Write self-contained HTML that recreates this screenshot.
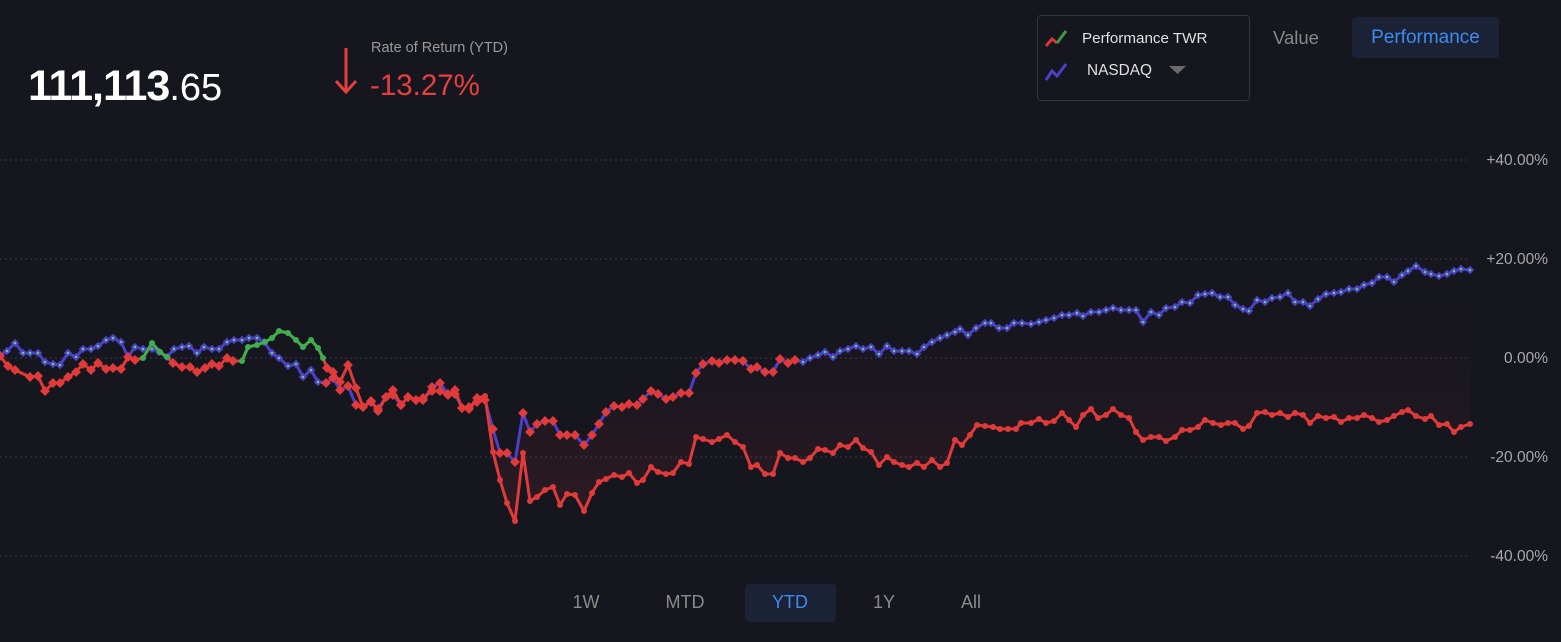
<!DOCTYPE html>
<html><head><meta charset="utf-8"><style>
html,body{margin:0;padding:0;background:#16161f;width:1561px;height:642px;overflow:hidden;font-family:"Liberation Sans",sans-serif;}
.t{position:absolute;white-space:nowrap;}
</style></head><body>
<div class="t" style="left:28px;top:62px;font-size:43px;font-weight:bold;color:#fff;letter-spacing:-1px">111,113<span style="font-size:38px;font-weight:normal;letter-spacing:0">.65</span></div>
<svg class="t" style="left:334px;top:46px" width="26" height="50"><line x1="12" y1="2" x2="12" y2="46" stroke="#e5403f" stroke-width="3"/><polyline points="2,35 12,46 22,35" fill="none" stroke="#e5403f" stroke-width="3"/></svg>
<div class="t" style="left:371px;top:40px;font-size:14.5px;color:#9a9a9a">Rate of Return (YTD)</div>
<div class="t" style="left:370px;top:69px;font-size:29.5px;color:#e5403f">-13.27%</div>
<div class="t" style="left:1037px;top:15px;width:213px;height:86px;border:1px solid #34343e;border-radius:4px;box-sizing:border-box"></div>
<svg class="t" style="left:1044px;top:28px" width="30" height="56"><polyline points="2,18 8,11 13,15" fill="none" stroke="#d9362f" stroke-width="3"/><polyline points="13,15 22,3" fill="none" stroke="#3a9a45" stroke-width="3"/><polyline points="2,52 8,43 13,48 22,36" fill="none" stroke="#4d3fc7" stroke-width="3"/></svg>
<div class="t" style="left:1082px;top:30px;font-size:15.2px;color:#e0e0e0">Performance TWR</div>
<div class="t" style="left:1087px;top:62px;font-size:15.4px;color:#e0e0e0">NASDAQ</div>
<svg class="t" style="left:1169px;top:66px" width="18" height="9"><polygon points="0,0 17,0 8.5,8" fill="#6a6a6a"/></svg>
<div class="t" style="left:1273px;top:27px;font-size:18.5px;color:#888">Value</div>
<div class="t" style="left:1352px;top:17px;width:147px;height:41px;background:#1b2235;border-radius:4px;color:#3d8bef;font-size:19px;text-align:center;line-height:41px">Performance</div>
<div class="t" style="left:745px;top:584px;width:91px;height:38px;background:#1b2235;border-radius:4px"></div>
<div class="t" style="left:556px;top:592px;width:60px;text-align:center;font-size:18px;color:#8a8a8a">1W</div>
<div class="t" style="left:655px;top:592px;width:60px;text-align:center;font-size:18px;color:#8a8a8a">MTD</div>
<div class="t" style="left:760px;top:592px;width:60px;text-align:center;font-size:18px;color:#3d8bef">YTD</div>
<div class="t" style="left:854px;top:592px;width:60px;text-align:center;font-size:18px;color:#8a8a8a">1Y</div>
<div class="t" style="left:941px;top:592px;width:60px;text-align:center;font-size:18px;color:#8a8a8a">All</div>
<svg id="c" class="t" style="left:0;top:0" width="1561" height="642"></svg>
<script>
var R=[[0,356],[8,366],[15,370],[30,377],[38,376],[45,391],[53,383],[60,383],[68,377],[76,372],[83,364],[91,370],[98,363],[106,369],[113,368],[121,369],[128,357],[135,360],[143,358],[152,343],[160,352],[167,357],[173,363],[182,367],[190,367],[197,372],[205,368],[212,364],[219,366],[227,358],[233,361],[242,361],[248,347],[257,345],[265,342],[272,338],[279,331],[288,333],[296,340],[303,347],[311,340],[318,348],[323,358],[327,368],[333,372],[340,382],[348,365],[356,388],[363,407],[371,401],[378,411],[386,397],[393,390],[401,405],[408,397],[416,400],[423,398],[432,391],[440,391],[448,395],[455,390],[462,408],[469,409],[477,398],[485,396],[493,452],[500,480],[507,503],[515,521],[523,453],[530,501],[537,497],[545,490],[553,487],[560,505],[567,494],[575,495],[584,511],[592,493],[599,482],[606,479],[614,475],[622,477],[629,473],[637,483],[643,480],[651,467],[658,472],[666,474],[673,473],[681,462],[689,464],[696,437],[703,439],[712,442],[719,439],[727,435],[735,442],[743,447],[751,467],[757,465],[765,474],[773,474],[780,453],[788,458],[795,458],[803,462],[810,458],[818,449],[825,450],[833,453],[840,445],[848,447],[856,440],[863,448],[871,452],[879,465],[887,457],[894,462],[902,465],[909,467],[917,463],[924,467],[932,460],[940,467],[947,463],[955,440],[962,445],[970,435],[977,425],[985,426],[993,427],[1000,429],[1008,429],[1016,429],[1021,423],[1031,423],[1039,419],[1046,423],[1054,421],[1062,413],[1069,420],[1076,427],[1083,415],[1091,409],[1098,418],[1106,415],[1113,409],[1121,415],[1129,418],[1136,432],[1143,440],[1151,437],[1159,437],[1166,441],[1175,437],[1182,430],[1190,430],[1198,427],[1205,420],[1213,423],[1221,425],[1228,423],[1235,423],[1243,429],[1249,426],[1257,413],[1265,412],[1272,415],[1280,413],[1288,417],[1295,413],[1303,415],[1310,423],[1318,416],[1326,418],[1334,417],[1341,422],[1349,418],[1357,418],[1364,415],[1372,418],[1379,422],[1387,420],[1394,416],[1402,412],[1408,410],[1416,416],[1425,419],[1431,416],[1439,425],[1447,424],[1454,432],[1461,427],[1470,424]];
var B=[[0,355],[7,351],[15,343],[23,353],[30,353],[38,353],[45,362],[53,364],[60,365],[68,353],[76,357],[83,349],[91,349],[98,346],[106,340],[113,338],[121,342],[128,357],[135,347],[143,349],[152,349],[159,352],[167,357],[174,349],[182,347],[189,346],[197,353],[204,347],[212,349],[219,349],[227,342],[234,340],[242,340],[249,338],[257,338],[264,342],[272,353],[279,358],[288,366],[296,364],[303,377],[311,370],[318,382],[326,383],[333,378],[340,390],[348,386],[356,405],[363,407],[371,402],[378,409],[386,397],[393,395],[401,405],[408,397],[416,400],[423,400],[432,387],[440,383],[448,394],[455,394],[462,408],[469,407],[477,402],[485,400],[493,429],[500,453],[507,453],[515,462],[523,413],[530,432],[537,424],[545,421],[553,421],[560,435],[567,435],[575,435],[584,445],[592,435],[599,424],[606,412],[614,406],[622,407],[629,404],[637,405],[643,399],[651,391],[658,394],[666,399],[673,397],[681,393],[689,393],[696,373],[703,364],[712,361],[719,363],[727,360],[735,360],[743,361],[751,369],[757,367],[765,372],[773,372],[780,359],[788,363],[795,360],[803,362],[810,358],[818,355],[825,352],[833,357],[840,351],[848,349],[856,346],[863,349],[871,347],[879,354],[887,346],[894,351],[902,351],[909,351],[917,354],[924,347],[932,342],[940,338],[947,335],[955,332],[960,329],[968,335],[976,328],[985,323],[991,323],[999,328],[1007,328],[1014,323],[1022,323],[1031,324],[1039,322],[1046,320],[1054,318],[1062,315],[1069,315],[1077,313],[1083,316],[1091,312],[1099,312],[1106,310],[1113,308],[1121,310],[1129,310],[1136,310],[1143,322],[1151,312],[1159,315],[1166,308],[1175,307],[1182,302],[1190,303],[1198,295],[1205,294],[1212,293],[1220,297],[1228,297],[1235,305],[1243,309],[1249,311],[1257,300],[1265,302],[1272,298],[1280,297],[1288,293],[1295,302],[1303,302],[1310,306],[1318,299],[1326,294],[1334,293],[1341,292],[1349,289],[1357,289],[1364,285],[1372,283],[1379,277],[1387,277],[1394,282],[1402,275],[1408,271],[1416,266],[1425,272],[1431,274],[1439,276],[1447,274],[1454,271],[1461,269],[1470,270]];
var s='<defs><linearGradient id="g" gradientUnits="userSpaceOnUse" x1="0" y1="300" x2="0" y2="520"><stop offset="0" stop-color="#e03a3a" stop-opacity="0"/><stop offset="0.35" stop-color="#e03a3a" stop-opacity="0.02"/><stop offset="1" stop-color="#e03a3a" stop-opacity="0.12"/></linearGradient></defs>';
[160,259,358,457,556].forEach(function(y,i){s+='<line x1="0" y1="'+y+'" x2="1470" y2="'+y+'" stroke="#3a3a44" stroke-dasharray="2,3"/>';
s+='<text x="1548" y="'+(y+5)+'" text-anchor="end" font-size="15.5" fill="#a8a8a8" font-family="Liberation Sans">'+['+40.00%','+20.00%','0.00%','-20.00%','-40.00%'][i]+'</text>';});
function pts(a){return a.map(function(p){return p.join(',')}).join(' ');}
var fa=B.filter(function(p){return p[0]>=470&&p[0]<=1470}),fr=R.filter(function(p){return p[0]>=470&&p[0]<=1470}).reverse();
s+='<polygon points="'+pts(fa.concat(fr))+'" fill="url(#g)"/>';
s+='<polyline points="'+pts(B)+'" fill="none" stroke="#4d3fc7" stroke-width="3" stroke-linejoin="round"/>';
B.forEach(function(p){var x=p[0],y=p[1];var mid=(x>320&&x<800);
if(mid)s+='<rect x="'+(x-3.5)+'" y="'+(y-3.5)+'" width="7" height="7" fill="#e03a3a" transform="rotate(45 '+x+' '+y+')"/>';
else s+='<rect x="'+(x-3)+'" y="'+(y-3)+'" width="6" height="6" fill="#4d3fc7" transform="rotate(45 '+x+' '+y+')"/><circle cx="'+x+'" cy="'+y+'" r="1.3" fill="#5fd06a"/>';});
s+='<polyline points="'+pts(R)+'" fill="none" stroke="#e03a3a" stroke-width="3" stroke-linejoin="round"/>';
var G1=R.filter(function(p){return p[0]>=143&&p[0]<=167}),G2=R.filter(function(p){return p[0]>=242&&p[0]<=323});
[G1,G2].forEach(function(g){s+='<polyline points="'+pts(g)+'" fill="none" stroke="#3fae4f" stroke-width="3" stroke-linejoin="round"/>';});
R.forEach(function(p){var x=p[0],y=p[1];var gr=(x>=143&&x<=167)||(x>=242&&x<=323);
if(x<480&&!gr)s+='<rect x="'+(x-3.5)+'" y="'+(y-3.5)+'" width="7" height="7" fill="#e03a3a" transform="rotate(45 '+x+' '+y+')"/>';
else s+='<circle cx="'+x+'" cy="'+y+'" r="3" fill="'+(gr?'#3fae4f':'#e03a3a')+'"/>';});
document.getElementById('c').innerHTML=s;
</script>
</body></html>
